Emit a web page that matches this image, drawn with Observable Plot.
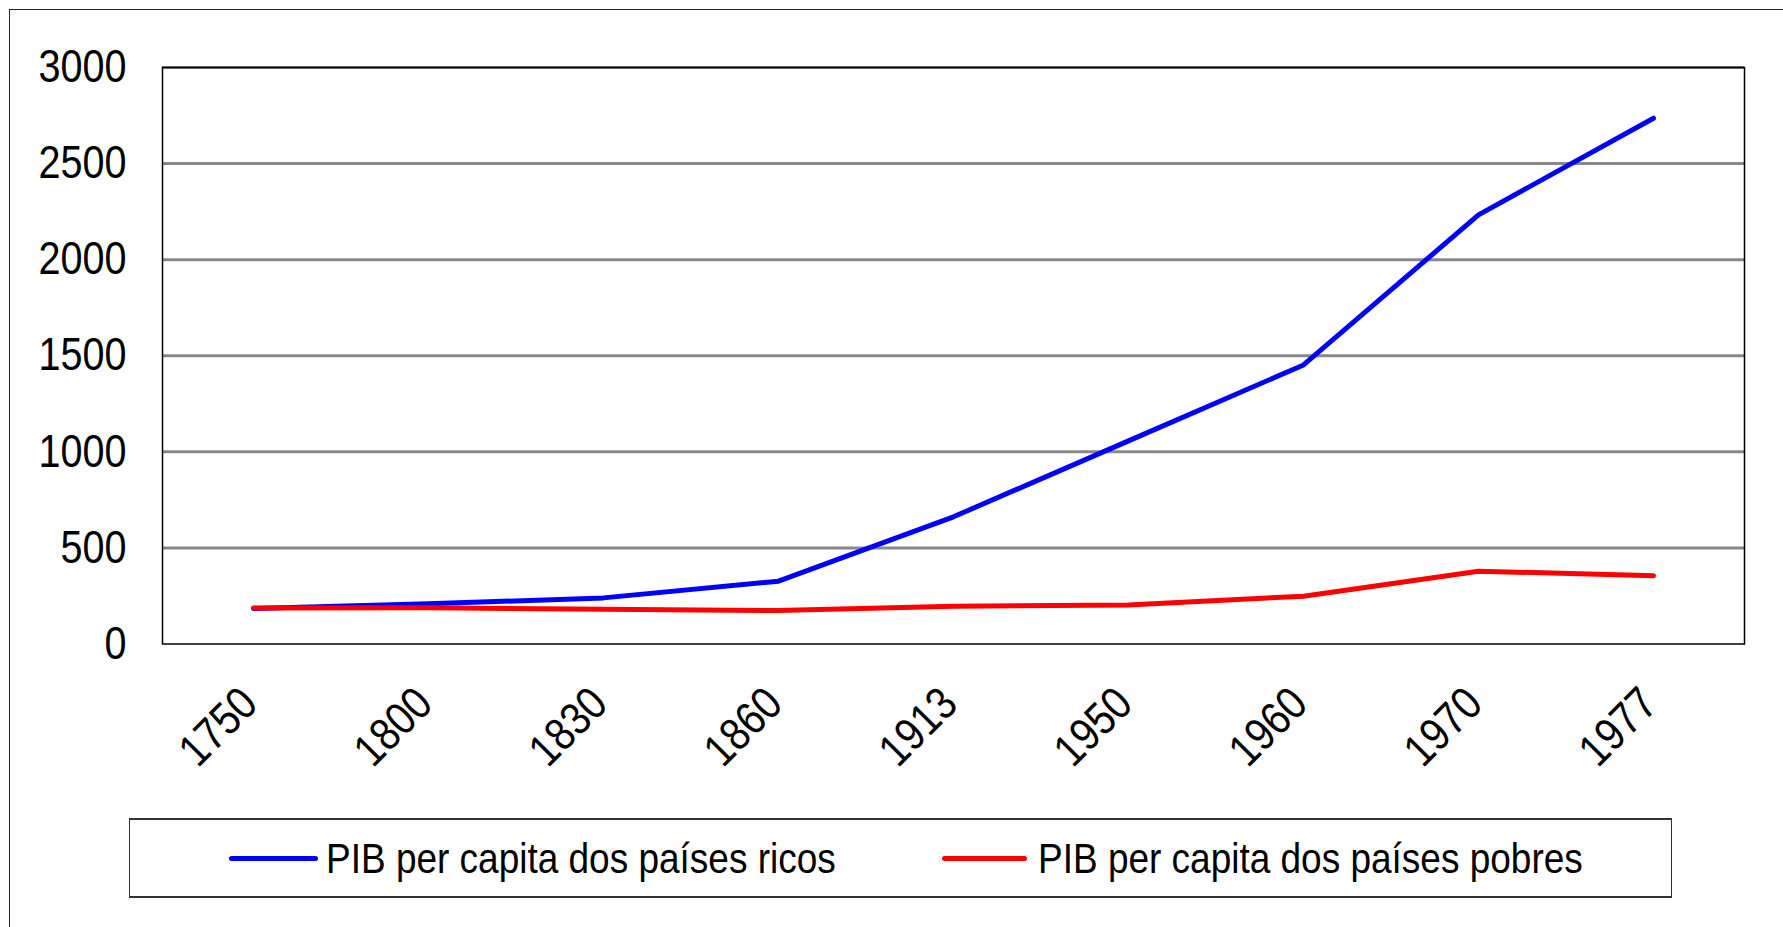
<!DOCTYPE html>
<html>
<head>
<meta charset="utf-8">
<script src="https://cdn.jsdelivr.net/npm/d3@7"></script>
<script src="https://cdn.jsdelivr.net/npm/@observablehq/plot@0.6"></script>
<style>
  html, body { margin: 0; padding: 0; background: #fff; }
  body { width: 1783px; height: 927px; position: relative; overflow: hidden;
         font-family: "Liberation Sans", Arial, sans-serif; }
  #frame { position: absolute; left: 9px; top: 9px; width: 1800px; height: 950px;
           border-left: 1.5px solid #222; border-top: 1.5px solid #222; box-sizing: border-box; }
  #chart { position: absolute; left: 0; top: 0; }
  #legend { position: absolute; left: 129px; top: 818px; width: 1543px; height: 80px;
            box-sizing: border-box; border: 1px solid #333; border-top-width: 2px; border-bottom-width: 2px;
            background: #fff; }
  .swatch { position: absolute; height: 5px; border-radius: 3px; top: 35.5px; }
  .label { position: absolute; top: 13px; font-size: 43px; line-height: 50px; color: #000;
           white-space: nowrap; transform-origin: 0 50%; }
</style>
</head>
<body>
<div id="frame"></div>
<div id="chart"></div>
<div id="legend"></div>
<script>
const years = ["1750", "1800", "1830", "1860", "1913", "1950", "1960", "1970", "1977"];
const ricos = [185, 209, 240, 327, 662, 1057, 1452, 2233, 2736];
const pobres = [187, 188, 181, 174, 197, 203, 249, 379, 355];
const seriesNames = ["PIB per capita dos países ricos", "PIB per capita dos países pobres"];
const seriesColors = ["#0000FF", "#FF0000"];
const yTicks = [0, 500, 1000, 1500, 2000, 2500, 3000];

const rows = [];
years.forEach((y, i) => {
  rows.push({year: y, value: ricos[i], serie: seriesNames[0]});
  rows.push({year: y, value: pobres[i], serie: seriesNames[1]});
});

const fontFam = '"Liberation Sans", Arial, sans-serif';
const narrow = 0.86;

const chart = Plot.plot({
  width: 1783,
  height: 800,
  marginLeft: 162,
  marginRight: 39,
  marginTop: 67,
  marginBottom: 156.5,
  style: {fontFamily: fontFam, fontSize: "46px", color: "#000", background: "transparent", overflow: "visible"},
  x: {type: "point", domain: years, padding: 0.5, label: null},
  y: {domain: [0, 3000], label: null},
  color: {domain: seriesNames, range: seriesColors},
  marks: [
    Plot.gridY(yTicks.filter(d => d > 0), {stroke: "#888", strokeOpacity: 1, strokeWidth: 3}),
    Plot.frame({stroke: "#000", strokeWidth: 1.5}),
    Plot.line(rows, {x: "year", y: "value", z: "serie", stroke: "serie", strokeWidth: 5,
                     strokeLinecap: "round", strokeLinejoin: "round"}),
    Plot.axisY(yTicks, {tickSize: 0, tickPadding: 36, fontSize: 46, label: null, tickFormat: d => String(d)}),
    Plot.axisX({tickSize: 0, tickPadding: 52, tickRotate: -45, fontSize: 46, label: null, dx: -4})
  ]
});
// condense tick label glyphs horizontally (the reference uses a narrow face)
chart.querySelectorAll('g[aria-label$="tick label"] text').forEach(t => {
  const tr = t.getAttribute("transform") || "";
  t.setAttribute("transform", tr + ` scale(${narrow},1)`);
});
document.getElementById("chart").appendChild(chart);

const legend = document.getElementById("legend");
const legendBoxLeft = 129;
const swatchX = [[228, 317], [941, 1026]];
const labelX = [325, 1037];
seriesNames.forEach((name, i) => {
  const sw = document.createElement("div");
  sw.className = "swatch";
  sw.style.left = (swatchX[i][0] - legendBoxLeft) + "px";
  sw.style.width = (swatchX[i][1] - swatchX[i][0]) + "px";
  sw.style.background = seriesColors[i];
  const label = document.createElement("div");
  label.className = "label";
  label.textContent = name;
  label.style.left = (labelX[i] - legendBoxLeft) + "px";
  label.style.transform = `scaleX(${narrow})`;
  legend.appendChild(sw);
  legend.appendChild(label);
});
</script>
</body>
</html>
